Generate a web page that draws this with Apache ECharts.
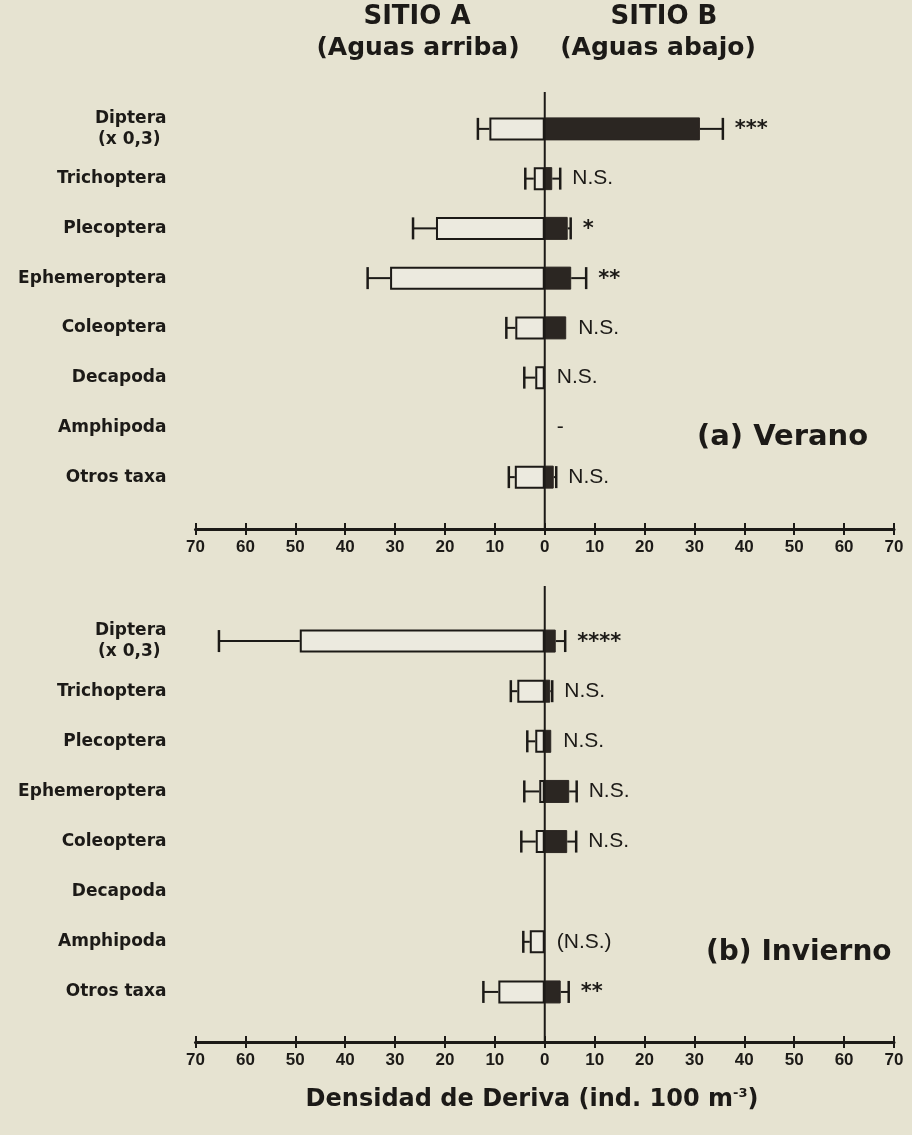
<!DOCTYPE html>
<html><head><meta charset="utf-8">
<script src="https://cdn.jsdelivr.net/npm/echarts@6/dist/echarts.min.js"></script>
<style>html,body{margin:0;padding:0;background:#e6e3d1}#c{width:912px;height:1135px}</style>
</head><body><div id="c"></div>
<script>
// ---- data ----
const categories = ['Diptera\n(x 0,3) ', 'Trichoptera', 'Plecoptera', 'Ephemeroptera', 'Coleoptera', 'Decapoda', 'Amphipoda', 'Otros taxa'];
const xMin = -70, xMax = 70, xStep = 10;
// (a) Verano
const veranoA    = [11.1, 2.2, 21.8, 31.0, 5.9, 1.9, 0, 6.0];
const veranoAErr = [2.3, 1.7, 4.6, 4.5, 1.8, 2.2, 0, 1.2];
const veranoB    = [31.1, 1.5, 4.6, 5.3, 4.3, 0, 0, 1.8];
const veranoBErr = [4.6, 1.6, 0.6, 3.0, 0, 0, 0, 0.5];
const veranoSig  = ['***', 'N.S.', '*', '**', 'N.S.', 'N.S.', '-', 'N.S.'];
// (b) Invierno
const inviernoA    = [49.1, 5.5, 1.9, 1.1, 1.8, 0, 3.0, 9.3];
const inviernoAErr = [16.2, 1.3, 1.6, 3.0, 2.9, 0, 1.3, 3.0];
const inviernoB    = [2.2, 1.1, 1.3, 4.9, 4.5, 0, 0, 3.2];
const inviernoBErr = [1.9, 0.4, 0, 1.5, 1.8, 0, 0, 1.6];
const inviernoSig  = ['****', 'N.S.', 'N.S.', 'N.S.', 'N.S.', '', '(N.S.)', '**'];

// ---- style ----
const INK = '#1c1a17';
const DARK = '#2b2622';
const LIGHT = '#eceadf';
const BG = '#e6e3d1';
const panels = [
  {A: veranoA, AE: veranoAErr, B: veranoB, BE: veranoBErr, sig: veranoSig, top: 104, height: 398, offset: 27, ext: 12},
  {A: inviernoA, AE: inviernoAErr, B: inviernoB, BE: inviernoBErr, sig: inviernoSig, top: 616, height: 401, offset: 25, ext: 30}
];

const chart = echarts.init(document.getElementById('c'), null, {renderer: 'canvas'});
const grids = [], xAxes = [], yAxes = [], series = [];
panels.forEach((p, g) => {
  grids.push({left: 195.5, right: 18, top: p.top, height: p.height, containLabel: false});
  const xBase = {gridIndex: g, type: 'value', min: xMin, max: xMax, interval: xStep, position: 'bottom', offset: p.offset, splitLine: {show: false}};
  xAxes.push(Object.assign({}, xBase, {
    axisLine: {show: true, onZero: false, lineStyle: {color: INK, width: 3}},
    axisTick: {show: true, length: 6, lineStyle: {color: INK, width: 2}},
    axisLabel: {formatter: v => String(Math.abs(v)), fontFamily: 'Liberation Sans', fontWeight: 'bold', fontSize: 17, color: INK, margin: 10}
  }));
  xAxes.push(Object.assign({}, xBase, {
    axisLine: {show: false, onZero: false},
    axisTick: {show: true, inside: true, length: 6, lineStyle: {color: INK, width: 2}},
    axisLabel: {show: false}
  }));
  yAxes.push({gridIndex: g, type: 'category', data: categories, inverse: true,
    axisLine: {show: false}, axisTick: {show: false}, splitLine: {show: false},
    axisLabel: {fontFamily: 'DejaVu Sans', fontWeight: 'bold', fontSize: 17, color: INK, margin: 29, lineHeight: 21}
  });
  const xi = g * 2;
  // zero line
  series.push({type: 'custom', xAxisIndex: xi, yAxisIndex: g, clip: false, silent: true, z: 5,
    data: [[0, 0]], encode: {x: 0, y: 1},
    renderItem: (params, api) => {
      const cs = params.coordSys;
      const x = api.coord([0, 0])[0];
      return {type: 'line', shape: {x1: x, y1: cs.y - p.ext, x2: x, y2: cs.y + cs.height + p.offset},
        style: {stroke: INK, lineWidth: 2}};
    }
  });
  // error bars + significance labels
  series.push({type: 'custom', xAxisIndex: xi, yAxisIndex: g, clip: false, silent: true, z: 1,
    data: categories.map((c, i) => [0, i]), encode: {x: 0, y: 1},
    renderItem: (params, api) => {
      const i = api.value(1);
      const y = api.coord([0, i])[1];
      const cap = 22;
      const ch = [];
      if (p.AE[i] > 0) {
        const x0 = api.coord([-p.A[i], i])[0], x1 = api.coord([-(p.A[i] + p.AE[i]), i])[0];
        ch.push({type: 'line', shape: {x1: x0, y1: y, x2: x1, y2: y}, style: {stroke: INK, lineWidth: 2}});
        ch.push({type: 'line', shape: {x1: x1, y1: y - cap / 2, x2: x1, y2: y + cap / 2}, style: {stroke: INK, lineWidth: 2.5}});
      }
      if (p.BE[i] > 0) {
        const x0 = api.coord([p.B[i], i])[0], x1 = api.coord([p.B[i] + p.BE[i], i])[0];
        ch.push({type: 'line', shape: {x1: x0, y1: y, x2: x1, y2: y}, style: {stroke: INK, lineWidth: 2}});
        ch.push({type: 'line', shape: {x1: x1, y1: y - cap / 2, x2: x1, y2: y + cap / 2}, style: {stroke: INK, lineWidth: 2.5}});
      }
      const s = p.sig[i];
      if (s) {
        const xe = api.coord([p.B[i] + p.BE[i], i])[0] + 12;
        const star = s.indexOf('*') >= 0;
        ch.push({type: 'text', x: xe, y: y + (star ? 1 : 0), style: {text: s, fill: INK,
          font: star ? 'bold 21px "DejaVu Sans"' : '21px "Liberation Sans"', textAlign: 'left', textVerticalAlign: 'middle'}});
      }
      return {type: 'group', children: ch};
    }
  });
  series.push({type: 'bar', xAxisIndex: xi, yAxisIndex: g, barWidth: 23, barGap: '-100%', z: 3,
    data: p.A.map(v => v > 0 ? -v : null),
    itemStyle: {color: LIGHT, borderColor: INK, borderWidth: 2}, silent: true});
  series.push({type: 'bar', xAxisIndex: xi, yAxisIndex: g, barWidth: 23, barGap: '-100%', z: 3,
    data: p.B.map(v => v > 0 ? v : null),
    itemStyle: {color: DARK, borderColor: DARK, borderWidth: 1}, silent: true});
});

const txt = (text, x, y, font, align) => ({type: 'text', x, y, style: {text, font, fill: INK, textAlign: align || 'center', textVerticalAlign: 'middle'}});
chart.setOption({
  backgroundColor: BG,
  animation: false,
  grid: grids, xAxis: xAxes, yAxis: yAxes, series,
  graphic: [
    txt('SITIO A', 417, 17, 'bold 26px "DejaVu Sans"'),
    txt('(Aguas arriba)', 418, 48, 'bold 25px "DejaVu Sans"'),
    txt('SITIO B', 664, 17, 'bold 26px "DejaVu Sans"'),
    txt('(Aguas abajo)', 658, 48, 'bold 25px "DejaVu Sans"'),
    txt('(a) Verano', 697, 437, 'bold 29px "DejaVu Sans"', 'left'),
    txt('(b) Invierno', 706, 953, 'bold 28px "DejaVu Sans"', 'left'),
    {type: 'text', x: 532, y: 1100, style: {
      text: '{t|Densidad de Deriva (ind. 100 m}{s|-3}{t|)}', textAlign: 'center', textVerticalAlign: 'middle', fill: INK,
      rich: {t: {font: 'bold 24px "DejaVu Sans"', fill: INK}, s: {font: 'bold 13px "DejaVu Sans"', fill: INK, verticalAlign: 'top', padding: [0, 0, 12, 0]}}
    }}
  ]
});
</script></body></html>
